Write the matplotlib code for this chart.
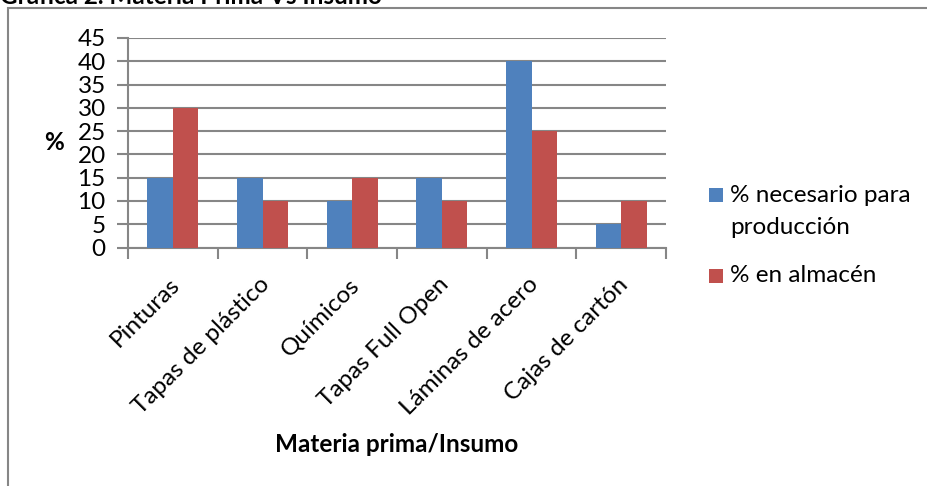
import numpy as np
import matplotlib.pyplot as plt
import matplotlib.transforms as mtransforms
from matplotlib.patches import Rectangle

plt.rcParams['font.family'] = ['Lato', 'DejaVu Sans']

categorias = ['Pinturas', 'Tapas de plástico', 'Químicos', 'Tapas Full Open',
              'Láminas de acero', 'Cajas de cartón']
necesario = [15, 15, 10, 15, 40, 5]
almacen = [30, 10, 15, 10, 25, 10]
yticks = [0, 5, 10, 15, 20, 25, 30, 35, 40, 45]
series = ['% necesario para\nproducción', '% en almacén']

azul = '#4F81BD'
rojo = '#C0504D'
gris = '#868686'
fs = 17.5

W, H = 927, 486
fig = plt.figure(figsize=(W/100, H/100), dpi=100)
ax = fig.add_axes([128/W, 1 - 247.5/H, (666 - 128)/W, (247.5 - 38)/H])

x = np.arange(len(categorias))
w = 0.285
ax.bar(x - w/2, necesario, w, color=azul, zorder=3)
ax.bar(x + w/2, almacen, w, color=rojo, zorder=3)

ax.set_xlim(-0.5, len(categorias) - 0.5)
ax.set_ylim(0, 45)
ax.set_yticks(yticks)
ax.set_yticklabels([str(v) for v in yticks], fontsize=fs)
ax.yaxis.grid(True, color=gris, linewidth=1.5, zorder=0)

ax.set_xticks(np.arange(-0.5, len(categorias), 1.0), minor=False)
ax.set_xticklabels([])
ax.set_xticks(x, minor=True)
ax.set_xticklabels(categorias, minor=True, rotation=45, ha='right',
                   rotation_mode='anchor', fontsize=fs)
ax.tick_params(axis='x', which='major', length=8, width=1.5, color=gris, direction='out')
ax.tick_params(axis='x', which='minor', length=0, pad=19)
ax.tick_params(axis='y', length=8, width=1.5, color=gris, pad=8)
shift = mtransforms.ScaledTranslation(-4/100, 0, fig.dpi_scale_trans)
for lab in ax.get_xticklabels(minor=True):
    lab.set_transform(lab.get_transform() + shift)

for s in ['top', 'right']:
    ax.spines[s].set_visible(False)
for s in ['left', 'bottom']:
    ax.spines[s].set_color(gris)
    ax.spines[s].set_linewidth(1.5)

ax.set_xlabel('Materia prima/Insumo', fontsize=fs, fontweight='bold', labelpad=10)
ax.set_ylabel('%', fontsize=fs, fontweight='bold', rotation=0, labelpad=17, va='center')

# leyenda a mano
fig.patches.append(Rectangle((709/W, 1 - 202/H), 14/W, 14/H, transform=fig.transFigure,
                             facecolor=azul, edgecolor='none'))
fig.patches.append(Rectangle((709/W, 1 - 283/H), 14/W, 14/H, transform=fig.transFigure,
                             facecolor=rojo, edgecolor='none'))
l1, l2 = series[0].split('\n')
fig.text(730/W, 1 - 195/H, l1, fontsize=fs, ha='left', va='center')
fig.text(730/W, 1 - 228/H, l2, fontsize=fs, ha='left', va='center')
fig.text(730/W, 1 - 275/H, series[1], fontsize=fs, ha='left', va='center')

fig.patches.append(Rectangle((8/W, -0.1), 1.1, 1 - 8/H + 0.1, transform=fig.transFigure,
                             fill=False, edgecolor=gris, linewidth=1.5))
fig.text(0.0, 1 + 3/H, 'Gráfica 2. Materia Prima Vs Insumo', fontsize=fs,
         fontweight='bold', ha='left', va='center')

fig.savefig('out.png', dpi=100)
